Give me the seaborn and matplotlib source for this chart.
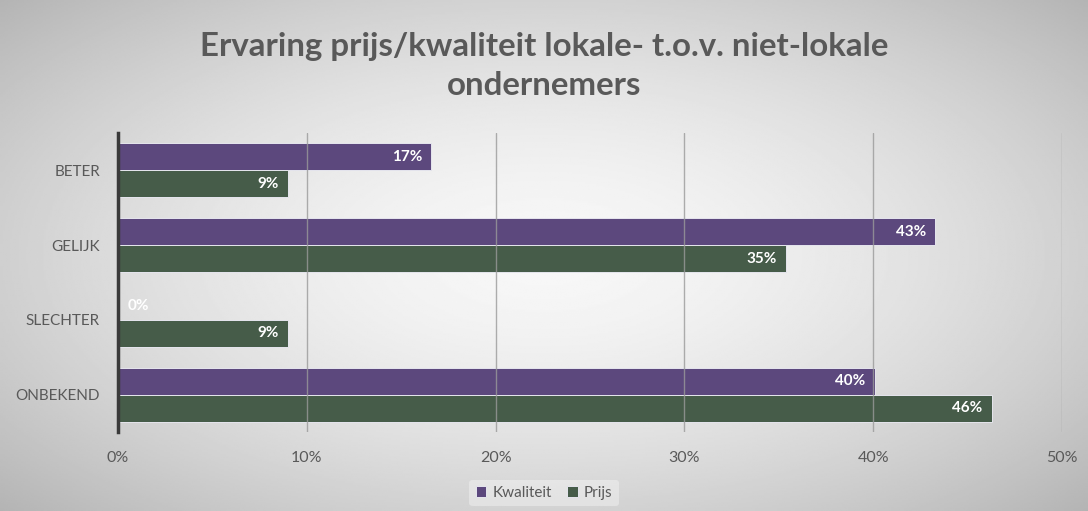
import numpy as np
import pandas as pd
import matplotlib
matplotlib.use('Agg')
import matplotlib.pyplot as plt
import seaborn as sns

# data (percent)
categories = ['BETER', 'GELIJK', 'SLECHTER', 'ONBEKEND']
series = ['Kwaliteit', 'Prijs']
kwaliteit = [16.6, 43.3, 0.0, 40.1]
prijs = [9.0, 35.4, 9.0, 46.3]
x_ticks = [0, 10, 20, 30, 40, 50]
title = 'Ervaring prijs/kwaliteit lokale- t.o.v. niet-lokale\nondernemers'

df = pd.DataFrame({
    'categorie': categories * 2,
    'reeks': ['Kwaliteit'] * 4 + ['Prijs'] * 4,
    'waarde': kwaliteit + prijs,
})

sns.set_style('white')
plt.rcParams['font.family'] = ['Lato', 'DejaVu Sans']

purple = '#5a3f86'
green = '#435f46'
text_grey = '#595959'

fig = plt.figure(figsize=(10.88, 5.11), dpi=100)

# radial grey background
bg = fig.add_axes([0, 0, 1, 1], zorder=-10)
yy, xx = np.mgrid[-1:1:300j, -1:1:600j]
r = np.sqrt((xx / 1.05) ** 2 + (yy / 1.1) ** 2)
shade = 0.97 - 0.17 * np.clip(r, 0, 1.4) ** 1.6
bg.imshow(shade, cmap='gray', vmin=0, vmax=1, aspect='auto', extent=[0, 1, 0, 1])
bg.axis('off')

ax = fig.add_axes([0.1085, 0.1546, 0.8675, 0.5851])
ax.set_facecolor('none')

sns.barplot(data=df, x='waarde', y='categorie', hue='reeks', order=categories,
            hue_order=series, palette=[purple, green], orient='h', width=0.72,
            edgecolor='#e6e6ee', linewidth=0.7, ax=ax, zorder=2)

# value labels inside bar ends
for cont in ax.containers:
    for p in cont:
        w = p.get_width()
        yc = p.get_y() + p.get_height() / 2
        if w > 0:
            ax.text(w - 0.5, yc, f'{w:.0f}%', ha='right', va='center', color='white',
                    fontsize=11, fontweight='bold', zorder=4)
        else:
            ax.text(0.5, yc, '0%', ha='left', va='center', color='white',
                    fontsize=11, fontweight='bold', zorder=4)

ax.set_xlim(0, 50)
ax.set_ylim(3.5, -0.5)
ax.set_xticks(x_ticks)
ax.set_xticklabels([f'{t}%' for t in x_ticks])
ax.xaxis.grid(True, color='#9a9a9a', linewidth=1.0, alpha=0.8)
ax.set_axisbelow(False)
for line in ax.get_xgridlines():
    line.set_zorder(3)
ax.tick_params(axis='x', length=0, pad=14, labelsize=11.5, labelcolor=text_grey)
ax.tick_params(axis='y', length=0, pad=13, labelsize=11, labelcolor=text_grey)
ax.set_xlabel('')
ax.set_ylabel('')
for s in ['top', 'right', 'bottom']:
    ax.spines[s].set_visible(False)
ax.spines['left'].set_color('#3a3a3a')
ax.spines['left'].set_linewidth(2.5)
ax.spines['left'].set_zorder(5)

handles, labels = ax.get_legend_handles_labels()
ax.legend(handles, labels, loc='center', ncol=2, frameon=True, facecolor='white',
          framealpha=0.35, edgecolor='none', fontsize=11, handlelength=0.7,
          handleheight=0.7, handletextpad=0.4, columnspacing=1.0, labelcolor=text_grey)
ax.get_legend().set_bbox_to_anchor((0.5, 0.035), transform=fig.transFigure)

fig.text(0.5, 0.871, title, ha='center', va='center', fontsize=23.8, fontweight='bold',
         color=text_grey, linespacing=1.4)

fig.savefig('out.png', dpi=100)
